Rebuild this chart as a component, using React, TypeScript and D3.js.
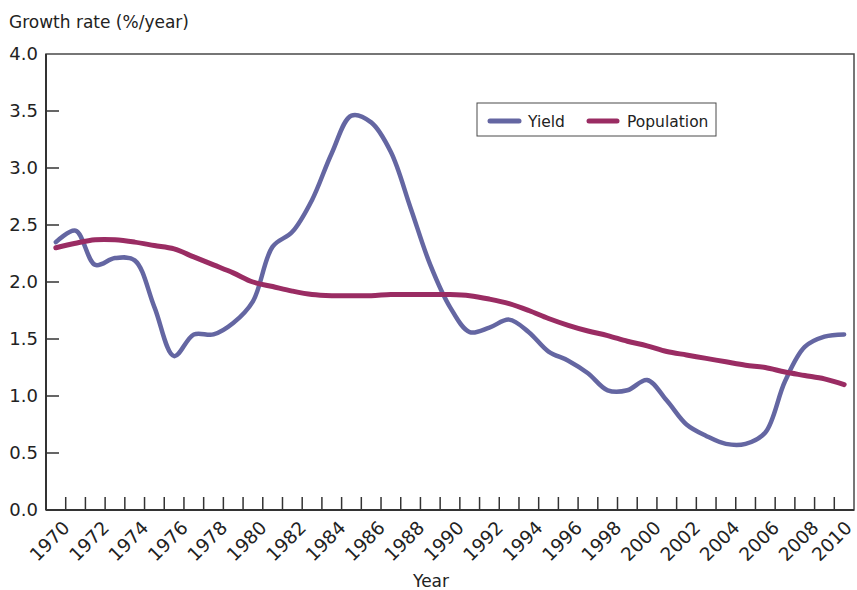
import React from 'react';
import * as d3 from 'd3';

// categories (one per year) and growth rates, %/year
const years = [
  1970, 1971, 1972, 1973, 1974, 1975, 1976, 1977, 1978, 1979,
  1980, 1981, 1982, 1983, 1984, 1985, 1986, 1987, 1988, 1989,
  1990, 1991, 1992, 1993, 1994, 1995, 1996, 1997, 1998, 1999,
  2000, 2001, 2002, 2003, 2004, 2005, 2006, 2007, 2008, 2009, 2010,
];

const yieldGrowth = [
  2.35, 2.45, 2.15, 2.21, 2.19, 1.78, 1.35, 1.54, 1.54, 1.64,
  1.83, 2.31, 2.44, 2.72, 3.13, 3.46, 3.40, 3.14, 2.65, 2.15,
  1.78, 1.56, 1.60, 1.67, 1.56, 1.39, 1.31, 1.20, 1.05, 1.05,
  1.14, 0.96, 0.75, 0.65, 0.58, 0.58, 0.68, 1.13, 1.43, 1.52, 1.54,
];

const populationGrowth = [
  2.30, 2.34, 2.37, 2.37, 2.35, 2.32, 2.29, 2.22, 2.15, 2.08,
  2.00, 1.96, 1.92, 1.89, 1.88, 1.88, 1.88, 1.89, 1.89, 1.89,
  1.89, 1.88, 1.85, 1.81, 1.75, 1.68, 1.62, 1.57, 1.53, 1.48,
  1.44, 1.39, 1.36, 1.33, 1.30, 1.27, 1.25, 1.21, 1.18, 1.15, 1.10,
];

const yTicks = [0, 0.5, 1, 1.5, 2, 2.5, 3, 3.5, 4];
const xLabelYears = years.filter(y => y % 2 === 0);

const YIELD_COLOR = '#6466a2';
const POP_COLOR = '#9a2c63';
const AXIS_COLOR = '#4a4a4a';
const FONT = '"DejaVu Sans", Verdana, sans-serif';

const W = 857;
const H = 590;
const plot = { left: 46, right: 854, top: 54, bottom: 510 };

if (typeof document !== 'undefined') {
  document.body.style.margin = '0';
}

export default function App() {
  const x = d3.scaleBand<number>()
    .domain(years)
    .range([plot.left, plot.right]);
  const xc = (yr: number) => (x(yr) ?? 0) + x.bandwidth() / 2;

  const y = d3.scaleLinear()
    .domain([0, 4])
    .range([plot.bottom, plot.top]);

  const line = d3.line<number>()
    .x((_, i) => xc(years[i]))
    .y(d => y(d))
    .curve(d3.curveCatmullRom.alpha(0.5));

  const tickLen = 13;

  return (
    <svg width={W} height={H} style={{ display: 'block', background: '#fff' }} fontFamily={FONT}>
      {/* axis title */}
      <text x={9} y={28} fontSize={17} fill="#222">Growth rate (%/year)</text>

      {/* plot frame */}
      <rect
        x={plot.left}
        y={plot.top}
        width={plot.right - plot.left}
        height={plot.bottom - plot.top}
        fill="none"
        stroke={AXIS_COLOR}
        strokeWidth={1.5}
      />
      <line x1={plot.left} x2={plot.left} y1={plot.top} y2={plot.bottom} stroke="#333" strokeWidth={2} />
      <line x1={plot.left} x2={plot.right} y1={plot.bottom} y2={plot.bottom} stroke="#333" strokeWidth={2} />

      {/* y ticks */}
      {yTicks.map(t => (
        <g key={t}>
          {t > 0 && t < 4 && (
            <line x1={plot.left} x2={plot.left + tickLen} y1={y(t)} y2={y(t)} stroke="#333" strokeWidth={1.5} />
          )}
          <text x={38} y={y(t)} dy="0.36em" textAnchor="end" fontSize={18} fill="#222">
            {t.toFixed(1)}
          </text>
        </g>
      ))}

      {/* x ticks at category boundaries */}
      {years.slice(1).map(yr => (
        <line
          key={yr}
          x1={x(yr)}
          x2={x(yr)}
          y1={plot.bottom}
          y2={plot.bottom - tickLen}
          stroke="#333"
          strokeWidth={1.5}
        />
      ))}

      {/* x labels, rotated */}
      {xLabelYears.map(yr => {
        const lx = Math.min(xc(yr) + 15, 853);
        const ly = 529;
        return (
          <text
            key={yr}
            x={lx}
            y={ly}
            textAnchor="end"
            fontSize={18.5}
            fill="#222"
            transform={`rotate(-45 ${lx} ${ly})`}
          >
            {yr}
          </text>
        );
      })}

      <text x={431} y={587} textAnchor="middle" fontSize={17} fill="#222">Year</text>

      {/* series */}
      <path d={line(yieldGrowth) ?? ''} fill="none" stroke={YIELD_COLOR} strokeWidth={4.5} strokeLinejoin="round" strokeLinecap="round" />
      <path d={line(populationGrowth) ?? ''} fill="none" stroke={POP_COLOR} strokeWidth={5} strokeLinejoin="round" strokeLinecap="round" />

      {/* legend */}
      <g>
        <rect x={477} y={103} width={239} height={33} fill="#fff" stroke={AXIS_COLOR} strokeWidth={1} />
        <line x1={490} x2={519} y1={121} y2={121} stroke={YIELD_COLOR} strokeWidth={5} strokeLinecap="round" />
        <text x={528} y={126.5} fontSize={15.5} fill="#222">Yield</text>
        <line x1={589} x2={617} y1={121} y2={121} stroke={POP_COLOR} strokeWidth={5} strokeLinecap="round" />
        <text x={627} y={126.5} fontSize={15.5} fill="#222">Population</text>
      </g>
    </svg>
  );
}
